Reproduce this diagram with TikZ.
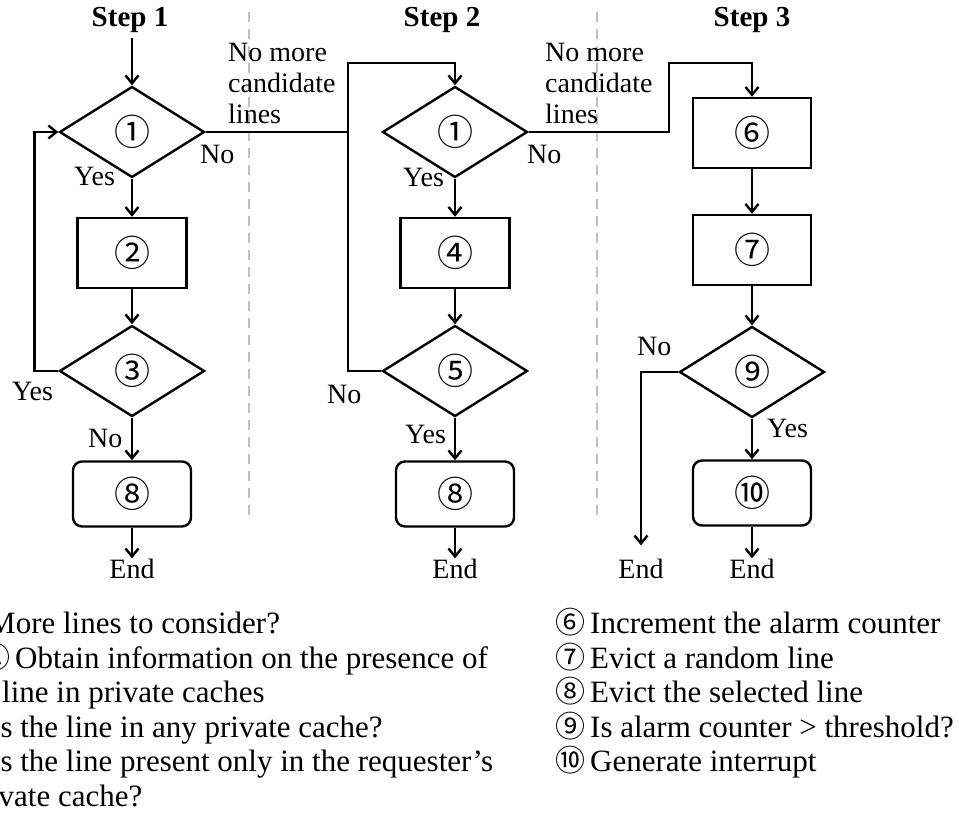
\documentclass[tikz,border=0pt]{standalone}
\usepackage{fontspec}
\setmainfont{Liberation Serif}
\newfontfamily\numfont{Noto Sans CJK JP}
\usetikzlibrary{shapes.geometric,arrows.meta}

\newcommand{\lblsize}{\fontsize{28}{31}\selectfont}
\newcommand{\legsize}{\fontsize{31}{34.5}\selectfont}
\newcommand{\cnum}[1]{\makebox[35pt][l]{\numfont\fontsize{30}{30}\selectfont #1}}

\begin{document}
\begin{tikzpicture}[x=1pt,y=-1pt,
		decision/.style={diamond,draw,line width=2.4pt,minimum width=145pt,minimum height=91pt,inner sep=0pt,font=\numfont\fontsize{36}{36}\selectfont},
		process/.style={rectangle,draw,line width=2.4pt,minimum width=109pt,minimum height=70pt,font=\numfont\fontsize{36}{36}\selectfont},
		terminal/.style={rectangle,rounded corners=9pt,draw,line width=2.4pt,minimum width=118pt,minimum height=65pt,font=\numfont\fontsize{36}{36}\selectfont},
		steptitle/.style={font=\fontsize{29}{29}\selectfont\bfseries,inner sep=0pt,anchor=base},
		endlbl/.style={font=\lblsize,inner sep=0pt,anchor=base},
		lbl/.style={font=\lblsize,inner sep=0pt,anchor=base west},
		legend/.style={font=\legsize,inner sep=0pt,anchor=base west},
		wire/.style={line width=2.4pt},
		flow/.style={line width=2.4pt,-{Straight Barb[length=8pt,width=13pt,line width=2.4pt]}},
		divider/.style={gray!50,line width=2pt,dash pattern=on 10pt off 7pt}]
	\useasboundingbox (0,0) rectangle (959,814);
	\clip (0,0) rectangle (959,814);

	\draw[divider] (249,12) -- (249,517);
	\draw[divider] (597,12) -- (597,517);

	% step 1
	\node[steptitle] (st1) at (130,26) {Step 1};
	\node[decision] (q1a) at (132,132) {①};
	\node[process] (p2) at (132,253) {②};
	\node[decision] (q3) at (132,371) {③};
	\node[terminal] (t8a) at (132,494) {⑧};
	\node[endlbl] (e1) at (132,578) {End};
	\node[lbl] (y1a) at (74,185) {Yes};
	\node[lbl] (n1a) at (200,163) {No};
	\node[lbl] (y3) at (12,400) {Yes};
	\node[lbl] (n3) at (88,447) {No};
	\node[lbl,align=left,anchor=north west,inner sep=0pt] (nm1) at (228,43) {No more\\candidate\\lines};

	\draw[flow] ([yshift=-6pt]q1a.north |- st1.south) -- (q1a.north);
	\draw[flow] (q1a.south) -- (p2.north);
	\draw[flow] (p2.south) -- (q3.north);
	\draw[flow] (q3.south) -- (t8a.north);
	\draw[flow] (t8a.south) -- (e1.north);
	\draw[flow] (q3.west) -- ++(-24,0) |- (q1a.west);

	% step 2
	\node[steptitle] (st2) at (442,26) {Step 2};
	\node[decision] (q1b) at (455,132) {①};
	\node[process] (p4) at (455,253) {④};
	\node[decision] (q5) at (455,371) {⑤};
	\node[terminal] (t8b) at (455,494) {⑧};
	\node[endlbl] (e2) at (455,578) {End};
	\node[lbl] (y1b) at (403,186) {Yes};
	\node[lbl] (n1b) at (527,163) {No};
	\node[lbl] (n5) at (327,403) {No};
	\node[lbl] (y5) at (405,443) {Yes};
	\node[lbl,align=left,anchor=north west,inner sep=0pt] (nm2) at (545,43) {No more\\candidate\\lines};
	\coordinate (top2) at (348,63);

	\draw[wire] (q1a.east) -- (q1a.east -| top2);
	\draw[flow] (q5.west) -| (top2) -| (q1b.north);
	\draw[flow] (q1b.south) -- (p4.north);
	\draw[flow] (p4.south) -- (q5.north);
	\draw[flow] (q5.south) -- (t8b.north);
	\draw[flow] (t8b.south) -- (e2.north);

	% step 3
	\node[steptitle] (st3) at (752,26) {Step 3};
	\node[process,minimum width=118pt] (p6) at (752,133) {⑥};
	\node[process,minimum width=118pt] (p7) at (752,250) {⑦};
	\node[decision] (q9) at (752,372) {⑨};
	\node[terminal] (t10) at (752,493) {⑩};
	\node[endlbl] (e3) at (641,578) {End};
	\node[endlbl] (e4) at (752,578) {End};
	\node[lbl] (n9) at (637,355) {No};
	\node[lbl] (y9) at (767,437) {Yes};
	\coordinate (top3) at (669,63);

	\draw[flow] (q1b.east) -| (top3) -| (p6.north);
	\draw[flow] (p6.south) -- (p7.north);
	\draw[flow] (p7.south) -- (q9.north);
	\draw[flow] (q9.west) -| ([yshift=13pt]e3.north);
	\draw[flow] (q9.south) -- (t10.north);
	\draw[flow] (t10.south) -- (e4.north);

	% legend
	\node[legend] (l1) at (-47,633) {\cnum{①}More lines to consider?};
	\node[legend] (l2) at (-20,668) {\cnum{②}Obtain information on the presence of};
	\node[legend] (l2b) at (2,702) {line in private caches};
	\node[legend] (l3) at (-45,737) {\cnum{③}Is the line in any private cache?};
	\node[legend] (l5) at (-45,771) {\cnum{⑤}Is the line present only in the requester’s};
	\node[legend] (l5b) at (-36,806) {private cache?};
	\node[legend] (l6) at (555,633) {\cnum{⑥}Increment the alarm counter};
	\node[legend] (l7) at (555,668) {\cnum{⑦}Evict a random line};
	\node[legend] (l8) at (555,702) {\cnum{⑧}Evict the selected line};
	\node[legend] (l9) at (555,737) {\cnum{⑨}Is alarm counter > threshold?};
	\node[legend] (l10) at (555,771) {\cnum{⑩}Generate interrupt};
\end{tikzpicture}
\end{document}
